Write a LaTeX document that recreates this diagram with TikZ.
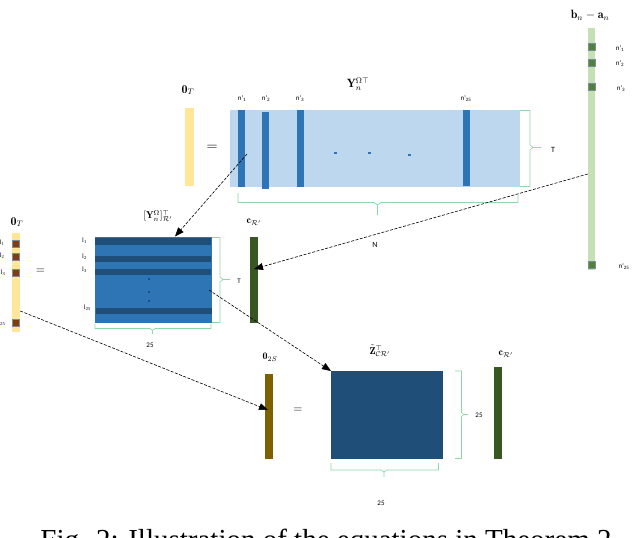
\documentclass[tikz,border=0pt]{standalone}
\usepackage{fontspec}
\usepackage{amsmath}
\newfontfamily\capfont{Liberation Serif}
\newfontfamily\lblfont{Carlito}
\newfontfamily\lfont{Liberation Serif}
\usetikzlibrary{arrows.meta}
\definecolor{ylw}{RGB}{255,230,153}
\definecolor{lblue}{RGB}{189,215,238}
\definecolor{mblue}{RGB}{46,117,182}
\definecolor{dblue}{RGB}{31,78,121}
\definecolor{lgreen}{RGB}{197,224,180}
\definecolor{dgreen}{RGB}{84,130,53}
\definecolor{cgreen}{RGB}{56,87,35}
\definecolor{brn}{RGB}{132,60,12}
\definecolor{olv}{RGB}{127,96,0}
\definecolor{brc}{RGB}{140,216,168}
\definecolor{sqb}{RGB}{120,140,160}
\begin{document}
\begin{tikzpicture}[x=1pt,y=-1pt,
  rect/.style={draw=none,inner sep=0pt,outer sep=0pt},
  sq/.style={rect,draw=sqb,line width=0.5pt,minimum width=7pt,minimum height=7pt},
  brace/.style={draw=brc,line width=0.7pt},
  lbl/.style={inner sep=0pt,font=\lblfont\fontsize{7}{8}\selectfont},
  llbl/.style={inner sep=0pt,anchor=east,font=\lfont\fontsize{6.5}{7}\selectfont},
  klbl/.style={inner sep=0pt,anchor=east,font=\lfont\fontsize{6.5}{7}\selectfont},
  mlbl/.style={inner sep=0pt,font=\large},
  eq/.style={inner sep=0pt},
  arr/.style={-{Triangle[length=9pt,width=7pt]},line width=0.6pt,dash pattern=on 3pt off 1.5pt},
  dot/.style={rect,fill=mblue,minimum width=3pt,minimum height=1.2pt}]
\useasboundingbox (0,0) rectangle (632,538);

% ---------- top equation ----------
\node[mlbl] (lz1) at (188,90) {$\mathbf{0}_T$};
\node[rect,fill=ylw,minimum width=9pt,minimum height=78pt] (z1) at (189.5,147) {};
\node[eq,font=\Large] (eq1) at (212,148) {$=$};
\node[rect,fill=lblue,minimum width=290pt,minimum height=77pt] (ym) at (375,148.5) {};
\node[rect,fill=mblue,minimum width=7pt,minimum height=77pt] (c1) at (241,148.5) {};
\node[rect,fill=mblue,minimum width=7pt,minimum height=77pt] (c2) at (265,150.5) {};
\node[rect,fill=mblue,minimum width=7pt,minimum height=77pt] (c3) at (300,148.5) {};
\node[rect,fill=mblue,minimum width=7pt,minimum height=76pt] (c4) at (466.5,148) {};
\node[dot] (d1) at (335,153) {};
\node[dot] (d2) at (369,153) {};
\node[dot] (d3) at (409,155) {};
\node[lbl] (n1) at (242,99) {n'\textsubscript{1}};
\node[lbl] (n2) at (266,99) {n'\textsubscript{2}};
\node[lbl] (n3) at (300,99) {n'\textsubscript{3}};
\node[lbl] (n25) at (466,99) {n'\textsubscript{25}};
\node[mlbl] (ly) at (358,84) {$\mathbf{Y}_n^{\Omega\top}$};
\draw[brace] (520,110.5) -- (530,110.5) -- (530,145) -- (533,147.5) -- (541,147.5);
\draw[brace] (533,147.5) -- (530,150) -- (530,186.5) -- (520,186.5);
\node[lbl,font=\lblfont\fontsize{8}{9}\selectfont] (lT1) at (553,150) {T};
\draw[brace] (238,193) -- (238,202.5) -- (374,202.5) -- (377.5,205) -- (377.5,215);
\draw[brace] (377.5,205) -- (381,202.5) -- (518,202.5) -- (518,194);
\node[lbl,font=\lblfont\fontsize{8}{9}\selectfont] (lN) at (375,245) {N};

% ---------- right vector ----------
\node[mlbl] (lba) at (590,15) {$\mathbf{b}_n-\mathbf{a}_n$};
\node[rect,fill=lgreen,minimum width=7.5pt,minimum height=242pt] (rb) at (591.5,149) {};
\node[sq,fill=dgreen] (s1) at (591.5,46.5) {};
\node[sq,fill=dgreen] (s2) at (591.5,63) {};
\node[sq,fill=dgreen] (s3) at (591.5,87) {};
\node[sq,fill=dgreen] (s4) at (591.5,264.5) {};
\node[lbl] (m1) at (620,49) {n'\textsubscript{1}};
\node[lbl] (m2) at (620,64) {n'\textsubscript{2}};
\node[lbl] (m3) at (621,89) {n'\textsubscript{3}};
\node[lbl] (m25) at (624,267) {n'\textsubscript{25}};

% ---------- middle equation ----------
\node[mlbl] (lz2) at (17,222) {$\mathbf{0}_T$};
\node[rect,fill=ylw,minimum width=8.5pt,minimum height=99pt] (z2) at (16,282.5) {};
\node[sq,fill=brn] (b1) at (16,243.5) {};
\node[sq,fill=brn] (b2) at (16,256.5) {};
\node[sq,fill=brn] (b3) at (16,273) {};
\node[sq,fill=brn] (b4) at (16,322.5) {};
\node[llbl] (l1) at (4.5,243) {l\textsubscript{1}};
\node[llbl] (l2) at (4.5,256) {l\textsubscript{2}};
\node[llbl] (l3) at (5.5,273) {l\textsubscript{3}};
\node[llbl] (l25) at (5.5,323) {l\textsubscript{25}};
\node[eq,font=\large] (eq2) at (40.5,271) {$=$};
\node[rect,fill=mblue,minimum width=117pt,minimum height=86pt] (ym2) at (153.5,280) {};
\node[rect,fill=dblue,minimum width=116pt,minimum height=6.5pt] (r1) at (153,241.5) {};
\node[rect,fill=dblue,minimum width=116pt,minimum height=6pt] (r2) at (153,259) {};
\node[rect,fill=dblue,minimum width=116pt,minimum height=6pt] (r3) at (153,272) {};
\node[rect,fill=dblue,minimum width=116pt,minimum height=6pt] (r4) at (154,311) {};
\node[rect,fill=dblue,minimum width=1.5pt,minimum height=1.2pt] (e1) at (149,279) {};
\node[rect,fill=dblue,minimum width=1.5pt,minimum height=1.2pt] (e2) at (149,292) {};
\node[rect,fill=dblue,minimum width=1.5pt,minimum height=1.2pt] (e3) at (149,301) {};
\node[klbl] (k1) at (87,241) {l\textsubscript{1}};
\node[klbl] (k2) at (87,257) {l\textsubscript{2}};
\node[klbl] (k3) at (87,270) {l\textsubscript{3}};
\node[klbl] (k25) at (91,308) {l\textsubscript{25}};
\node[inner sep=0pt,font=\normalsize] (ly2) at (158,216) {$[\mathbf{Y}_n^{\Omega}]_{\mathcal{R}'}^{\top}$};
\draw[brace] (212,237.5) -- (220,237.5) -- (220,277) -- (223,279.5) -- (230,279.5);
\draw[brace] (223,279.5) -- (220,282) -- (220,322.5) -- (212,322.5);
\node[lbl] (lT2) at (239,281) {T};
\draw[brace] (95,324) -- (95,328.5) -- (150,328.5) -- (152.5,330.5) -- (152.5,334);
\draw[brace] (152.5,330.5) -- (155,328.5) -- (211,328.5) -- (211,324);
\node[lbl] (l25b) at (150,345) {25};
\node[mlbl,font=\normalsize] (lc1) at (254,222) {$\mathbf{c}_{\mathcal{R}'}$};
\node[rect,fill=cgreen,minimum width=8pt,minimum height=86pt] (cb1) at (253.5,280) {};

% ---------- bottom equation ----------
\node[mlbl,font=\normalsize] (lz3) at (270,357) {$\mathbf{0}_{2S}$};
\node[rect,fill=olv,minimum width=8pt,minimum height=85pt] (ob) at (269,416.5) {};
\node[eq,font=\large] (eq3) at (298,410) {$=$};
\node[rect,fill=dblue,minimum width=112pt,minimum height=88pt] (zm) at (387,415) {};
\node[inner sep=0pt,font=\normalsize] (lzm) at (380,351) {$\tilde{\mathbf{Z}}_{\mathcal{C}\mathcal{R}'}^{\top}$};
\draw[brace] (455,371) -- (461.5,371) -- (461.5,412.5) -- (463.5,414.5) -- (468,414.5);
\draw[brace] (463.5,414.5) -- (461.5,416.5) -- (461.5,458.5) -- (455,458.5);
\node[lbl] (l25c) at (479,415) {25};
\draw[brace] (331,463) -- (331,470) -- (381.5,470) -- (384,472) -- (384,477);
\draw[brace] (384,472) -- (386.5,470) -- (438.5,470) -- (438.5,463);
\node[lbl] (l25d) at (381,503) {25};
\node[mlbl,font=\normalsize] (lc2) at (506,354) {$\mathbf{c}_{\mathcal{R}'}$};
\node[rect,fill=cgreen,minimum width=7.5pt,minimum height=92pt] (cb2) at (498,413) {};

% ---------- connectors ----------
\coordinate (a1s) at (247,154);
\coordinate (a1e) at (175,236.5);
\draw[arr] (a1s) -- (a1e);
\coordinate (a2s) at (rb.west |- 0,174);
\coordinate (a2e) at (254,269);
\draw[arr] (a2s) -- (a2e);
\coordinate (a3s) at (209,290);
\draw[arr] (a3s) -- (zm.north west);
\coordinate (a4s) at (z2.east |- 0,311);
\coordinate (a4e) at (268,410);
\draw[arr] (a4s) -- (a4e);

% ---------- caption ----------
\node[inner sep=0pt,anchor=north,font=\capfont\fontsize{29}{34}\selectfont] (cap) at (326,529) {Fig. 2: Illustration of the equations in Theorem 2};
\end{tikzpicture}
\end{document}
